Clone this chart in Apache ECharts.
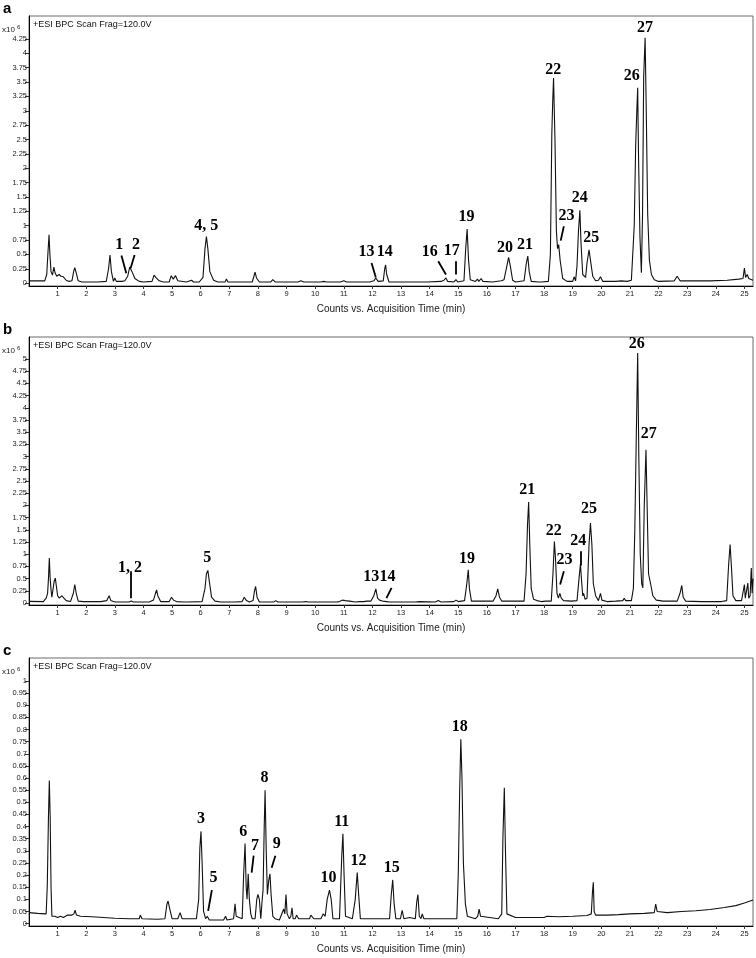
<!DOCTYPE html>
<html>
<head>
<meta charset="utf-8">
<script src="https://cdn.jsdelivr.net/npm/echarts@6.0.0/dist/echarts.min.js"></script>
<style>
    html, body { margin: 0; padding: 0; background: #fff; }
    #main { width: 756px; height: 958px; }
</style>
</head>
<body>
<div id="main"></div>
<script>
// tick labels
var xTicks = [1, 2, 3, 4, 5, 6, 7, 8, 9, 10, 11, 12, 13, 14, 15, 16, 17, 18, 19, 20, 21, 22, 23, 24, 25];
var yTicksA = [0, 0.25, 0.5, 0.75, 1, 1.25, 1.5, 1.75, 2, 2.25, 2.5, 2.75, 3, 3.25, 3.5, 3.75, 4, 4.25];
var yTicksB = [0, 0.25, 0.5, 0.75, 1, 1.25, 1.5, 1.75, 2, 2.25, 2.5, 2.75, 3, 3.25, 3.5, 3.75, 4, 4.25, 4.5, 4.75, 5];
var yTicksC = [0, 0.05, 0.1, 0.15, 0.2, 0.25, 0.3, 0.35, 0.4, 0.45, 0.5, 0.55, 0.6, 0.65, 0.7, 0.75, 0.8, 0.85, 0.9, 0.95, 1];

// BPC traces, [time (min), counts x10^6]
var traceA = [
    [0, 0.04], [0.55, 0.04], [0.62, 0.15], [0.67, 0.6], [0.70, 0.84], [0.73, 0.5], [0.77, 0.2], [0.82, 0.14], [0.87, 0.28], [0.91, 0.18],
    [0.97, 0.12], [1.05, 0.15], [1.12, 0.12], [1.2, 0.11], [1.3, 0.05], [1.4, 0.03], [1.5, 0.04], [1.56, 0.2], [1.6, 0.27], [1.65, 0.18],
    [1.72, 0.04], [1.85, 0.02], [2.4, 0.02], [2.7, 0.03], [2.78, 0.25], [2.83, 0.49], [2.88, 0.2], [2.95, 0.03], [3.0, 0.09], [3.05, 0.03],
    [3.25, 0.03], [3.3, 0.06], [3.35, 0.04], [3.45, 0.12], [3.52, 0.28], [3.55, 0.31], [3.6, 0.2], [3.7, 0.08], [3.85, 0.03], [4.0, 0.02],
    [4.3, 0.03], [4.37, 0.14], [4.43, 0.1], [4.48, 0.12], [4.55, 0.04], [4.7, 0.02], [4.9, 0.02], [4.97, 0.13], [5.04, 0.07], [5.12, 0.13],
    [5.2, 0.04], [5.5, 0.02], [5.68, 0.05], [5.75, 0.02], [5.95, 0.02], [6.08, 0.1], [6.15, 0.6], [6.2, 0.81], [6.25, 0.6], [6.32, 0.2],
    [6.45, 0.05], [6.6, 0.02], [6.85, 0.02], [6.9, 0.07], [6.95, 0.02], [7.35, 0.02], [7.4, 0.05], [7.45, 0.02], [7.8, 0.02], [7.86, 0.12],
    [7.9, 0.19], [7.95, 0.09], [8.05, 0.02], [8.35, 0.02], [8.4, 0.04], [8.45, 0.02], [8.52, 0.06], [8.6, 0.02], [9.4, 0.02], [9.5, 0.04],
    [9.6, 0.02], [10.2, 0.02], [10.3, 0.03], [10.4, 0.02], [10.75, 0.02], [10.8, 0.05], [10.88, 0.02], [11.0, 0.04], [11.1, 0.02], [11.9, 0.02],
    [12.05, 0.04], [12.12, 0.09], [12.2, 0.03], [12.38, 0.04], [12.43, 0.25], [12.46, 0.32], [12.5, 0.15], [12.58, 0.02], [13.25, 0.02], [13.31, 0.05],
    [13.38, 0.02], [13.9, 0.02], [14.4, 0.03], [14.5, 0.05], [14.57, 0.09], [14.63, 0.03], [14.85, 0.02], [14.92, 0.06], [14.98, 0.02], [15.2, 0.04],
    [15.26, 0.6], [15.31, 0.94], [15.36, 0.4], [15.42, 0.06], [15.6, 0.03], [15.67, 0.07], [15.72, 0.03], [15.8, 0.08], [15.86, 0.03], [16.2, 0.02],
    [16.5, 0.04], [16.6, 0.06], [16.7, 0.3], [16.76, 0.45], [16.82, 0.3], [16.9, 0.05], [17.0, 0.02], [17.3, 0.04], [17.38, 0.35], [17.43, 0.47],
    [17.48, 0.2], [17.55, 0.03], [17.8, 0.02], [17.85, 0.05], [17.9, 0.02], [18.15, 0.03], [18.22, 0.5], [18.27, 2.6], [18.3, 3.15], [18.33, 3.57],
    [18.38, 2.5], [18.43, 0.9], [18.47, 0.6], [18.51, 0.67], [18.56, 0.4], [18.65, 0.08], [18.8, 0.03], [19.0, 0.03], [19.05, 0.11], [19.1, 0.04],
    [19.15, 0.3], [19.2, 0.9], [19.25, 1.27], [19.29, 0.7], [19.35, 0.15], [19.45, 0.1], [19.5, 0.35], [19.57, 0.58], [19.62, 0.4], [19.7, 0.12],
    [19.8, 0.04], [19.9, 0.05], [19.97, 0.11], [20.05, 0.03], [20.5, 0.03], [20.7, 0.04], [20.9, 0.03], [21.05, 0.05], [21.15, 1.0], [21.2, 2.4],
    [21.24, 3.0], [21.27, 3.4], [21.3, 2.2], [21.35, 0.8], [21.4, 0.18], [21.44, 1.2], [21.48, 3.6], [21.53, 4.27], [21.57, 3.0], [21.62, 1.2],
    [21.68, 0.4], [21.75, 0.15], [21.85, 0.06], [22.0, 0.03], [22.55, 0.04], [22.65, 0.12], [22.75, 0.04], [23.2, 0.04], [23.8, 0.04], [24.4, 0.05],
    [24.8, 0.07], [24.95, 0.08], [25.0, 0.26], [25.04, 0.1], [25.1, 0.15], [25.15, 0.08], [25.2, 0.1], [25.3, 0.05]
];

var traceB = [
    [0, 0.035], [0.5, 0.03], [0.6, 0.1], [0.65, 0.2], [0.68, 0.5], [0.71, 0.92], [0.74, 0.5], [0.77, 0.27], [0.8, 0.12], [0.84, 0.1],
    [0.88, 0.45], [0.92, 0.51], [0.96, 0.48], [1.0, 0.15], [1.06, 0.1], [1.15, 0.15], [1.22, 0.1], [1.3, 0.05], [1.45, 0.03], [1.55, 0.2],
    [1.6, 0.38], [1.65, 0.2], [1.72, 0.04], [1.9, 0.03], [2.5, 0.03], [2.72, 0.05], [2.8, 0.15], [2.86, 0.05], [2.95, 0.03], [3.0, 0.04],
    [3.05, 0.02], [3.5, 0.02], [3.57, 0.04], [3.65, 0.02], [4.2, 0.02], [4.35, 0.06], [4.42, 0.2], [4.46, 0.27], [4.5, 0.15], [4.6, 0.03],
    [4.9, 0.03], [4.98, 0.12], [5.05, 0.06], [5.15, 0.03], [5.4, 0.02], [5.45, 0.04], [5.55, 0.02], [6.05, 0.03], [6.15, 0.3], [6.2, 0.6],
    [6.25, 0.67], [6.3, 0.45], [6.38, 0.12], [6.5, 0.04], [6.7, 0.02], [7.2, 0.02], [7.25, 0.03], [7.45, 0.03], [7.52, 0.12], [7.55, 0.15],
    [7.6, 0.05], [7.7, 0.02], [7.83, 0.05], [7.88, 0.25], [7.92, 0.34], [7.97, 0.12], [8.05, 0.02], [8.45, 0.02], [8.5, 0.04], [8.55, 0.02],
    [8.62, 0.05], [8.7, 0.02], [9.45, 0.02], [9.5, 0.03], [9.55, 0.02], [9.68, 0.03], [9.75, 0.02], [10.75, 0.02], [10.85, 0.03], [10.95, 0.06],
    [11.05, 0.05], [11.2, 0.04], [11.4, 0.02], [11.55, 0.03], [11.6, 0.06], [11.7, 0.03], [11.8, 0.04], [11.95, 0.04], [12.05, 0.15], [12.12, 0.29],
    [12.18, 0.1], [12.25, 0.06], [12.35, 0.04], [12.5, 0.03], [12.55, 0.04], [12.6, 0.02], [13.5, 0.02], [13.65, 0.03], [14.2, 0.02], [14.3, 0.05],
    [14.4, 0.02], [14.85, 0.03], [14.92, 0.06], [15.0, 0.03], [15.22, 0.05], [15.3, 0.4], [15.35, 0.68], [15.39, 0.3], [15.46, 0.04], [16.22, 0.04],
    [16.32, 0.15], [16.38, 0.29], [16.44, 0.12], [16.52, 0.04], [17.3, 0.04], [17.37, 0.6], [17.42, 1.6], [17.46, 2.07], [17.5, 1.2], [17.55, 0.3],
    [17.63, 0.08], [17.75, 0.05], [17.9, 0.03], [18.05, 0.04], [18.25, 0.04], [18.31, 0.6], [18.36, 1.26], [18.4, 0.9], [18.45, 0.2], [18.5, 0.1],
    [18.55, 0.2], [18.6, 0.1], [18.68, 0.05], [18.95, 0.04], [19.15, 0.05], [19.22, 0.5], [19.27, 0.8], [19.31, 0.45], [19.35, 0.15], [19.38, 0.2],
    [19.43, 0.08], [19.5, 0.1], [19.57, 1.2], [19.62, 1.64], [19.67, 1.2], [19.72, 0.4], [19.8, 0.15], [19.9, 0.05], [19.97, 0.2], [20.02, 0.06],
    [20.2, 0.03], [20.5, 0.04], [20.75, 0.05], [20.8, 0.1], [20.85, 0.05], [21.05, 0.05], [21.12, 0.3], [21.17, 1.5], [21.22, 3.35], [21.27, 5.12],
    [21.31, 3.0], [21.36, 1.0], [21.41, 0.4], [21.45, 0.31], [21.5, 2.0], [21.56, 3.14], [21.6, 2.0], [21.65, 0.6], [21.72, 0.4], [21.8, 0.15],
    [21.92, 0.06], [22.05, 0.05], [22.1, 0.07], [22.15, 0.04], [22.65, 0.04], [22.75, 0.2], [22.81, 0.36], [22.86, 0.12], [22.95, 0.04], [23.5, 0.03],
    [24.2, 0.03], [24.38, 0.05], [24.45, 0.8], [24.5, 1.2], [24.55, 0.7], [24.6, 0.15], [24.7, 0.05], [24.9, 0.05], [25.0, 0.38], [25.03, 0.1],
    [25.08, 0.1], [25.12, 0.41], [25.15, 0.1], [25.2, 0.15], [25.24, 0.72], [25.27, 0.2], [25.3, 0.5]
];

var traceC = [
    [0, 0.045], [0.3, 0.042], [0.6, 0.04], [0.64, 0.16], [0.68, 0.44], [0.71, 0.59], [0.74, 0.44], [0.77, 0.15], [0.8, 0.03], [0.9, 0.03],
    [1.0, 0.025], [1.1, 0.03], [1.2, 0.025], [1.35, 0.035], [1.5, 0.035], [1.57, 0.04], [1.61, 0.055], [1.66, 0.035], [1.8, 0.03], [2.2, 0.028],
    [2.6, 0.025], [3.0, 0.022], [3.5, 0.02], [3.85, 0.02], [3.89, 0.035], [3.95, 0.02], [4.5, 0.018], [4.75, 0.02], [4.82, 0.08], [4.86, 0.093],
    [4.92, 0.06], [5.0, 0.02], [5.2, 0.02], [5.28, 0.045], [5.35, 0.02], [5.85, 0.02], [5.93, 0.1], [5.97, 0.31], [6.01, 0.38], [6.05, 0.25],
    [6.1, 0.05], [6.17, 0.02], [6.23, 0.03], [6.3, 0.015], [6.8, 0.015], [6.87, 0.03], [6.92, 0.015], [7.15, 0.02], [7.2, 0.082], [7.24, 0.03],
    [7.45, 0.02], [7.5, 0.2], [7.55, 0.33], [7.59, 0.15], [7.62, 0.1], [7.66, 0.205], [7.7, 0.1], [7.75, 0.04], [7.8, 0.02], [7.9, 0.02],
    [7.96, 0.1], [8.0, 0.12], [8.05, 0.1], [8.1, 0.02], [8.15, 0.1], [8.18, 0.14], [8.22, 0.4], [8.25, 0.55], [8.29, 0.3], [8.33, 0.12],
    [8.38, 0.18], [8.42, 0.205], [8.46, 0.12], [8.52, 0.03], [8.6, 0.02], [8.75, 0.015], [8.9, 0.06], [8.94, 0.04], [8.98, 0.12], [9.02, 0.04],
    [9.1, 0.02], [9.15, 0.03], [9.19, 0.065], [9.23, 0.02], [9.3, 0.02], [9.35, 0.035], [9.42, 0.02], [9.5, 0.02], [9.8, 0.02], [9.85, 0.035],
    [9.95, 0.02], [10.2, 0.02], [10.28, 0.04], [10.35, 0.03], [10.42, 0.1], [10.5, 0.138], [10.56, 0.1], [10.62, 0.02], [10.85, 0.02], [10.93, 0.28],
    [10.97, 0.37], [11.01, 0.2], [11.06, 0.03], [11.3, 0.02], [11.4, 0.1], [11.47, 0.21], [11.52, 0.12], [11.58, 0.02], [12.0, 0.02], [12.2, 0.02],
    [12.25, 0.025], [12.3, 0.02], [12.6, 0.02], [12.66, 0.12], [12.71, 0.18], [12.76, 0.08], [12.82, 0.02], [12.98, 0.02], [13.04, 0.055], [13.1, 0.02],
    [13.3, 0.025], [13.5, 0.02], [13.55, 0.09], [13.59, 0.12], [13.64, 0.03], [13.7, 0.02], [13.74, 0.04], [13.8, 0.02], [14.5, 0.02], [14.95, 0.02],
    [15.0, 0.2], [15.05, 0.55], [15.09, 0.76], [15.13, 0.6], [15.18, 0.25], [15.25, 0.08], [15.32, 0.03], [15.6, 0.02], [15.68, 0.03], [15.73, 0.06],
    [15.78, 0.03], [16.4, 0.02], [16.52, 0.04], [16.56, 0.35], [16.61, 0.56], [16.65, 0.3], [16.7, 0.04], [17.0, 0.025], [17.5, 0.025], [18.0, 0.025],
    [18.1, 0.03], [18.5, 0.028], [19.0, 0.03], [19.5, 0.033], [19.65, 0.04], [19.69, 0.13], [19.72, 0.17], [19.75, 0.05], [19.8, 0.035], [20.2, 0.035],
    [20.6, 0.037], [21.0, 0.04], [21.5, 0.042], [21.85, 0.045], [21.9, 0.08], [21.95, 0.05], [22.3, 0.045], [22.8, 0.05], [23.3, 0.053], [23.8, 0.058],
    [24.3, 0.066], [24.7, 0.074], [25.0, 0.085], [25.3, 0.097]
];

// peak numbers: [text, time, height]
var peaksA = [
    ['1', 3.15, 0.66], ['2', 3.74, 0.67], ['4, 5', 6.19, 0.99], ['13', 11.79, 0.54], ['14', 12.43, 0.54],
    ['16', 14.0, 0.55], ['17', 14.77, 0.57], ['19', 15.29, 1.16], ['20', 16.63, 0.61], ['21', 17.33, 0.67],
    ['22', 18.32, 3.72], ['23', 18.78, 1.17], ['24', 19.25, 1.48], ['25', 19.65, 0.78], ['26', 21.06, 3.6], ['27', 21.53, 4.45]
];
var peaksB = [
    ['1, 2', 3.53, 0.72], ['5', 6.23, 0.92], ['13', 11.96, 0.53], ['14', 12.53, 0.53], ['19', 15.31, 0.91],
    ['21', 17.41, 2.32], ['22', 18.34, 1.47], ['23', 18.71, 0.89], ['24', 19.19, 1.28], ['25', 19.57, 1.93],
    ['26', 21.24, 5.31], ['27', 21.66, 3.46]
];
var peaksC = [
    ['3', 6.01, 0.43], ['5', 6.45, 0.19], ['6', 7.49, 0.38], ['7', 7.9, 0.32], ['8', 8.23, 0.6], ['9', 8.66, 0.33],
    ['10', 10.47, 0.19], ['11', 10.93, 0.42], ['12', 11.51, 0.26], ['15', 12.68, 0.23], ['18', 15.05, 0.81]
];

// leader lines: [t1, y1, t2, y2]
var leadersA = [
    [3.23, 0.48, 3.40, 0.17], [3.69, 0.49, 3.55, 0.26], [11.97, 0.35, 12.12, 0.1], [14.3, 0.38, 14.57, 0.15],
    [14.92, 0.38, 14.92, 0.15], [18.69, 0.99, 18.58, 0.74]
];
var leadersB = [
    [3.57, 0.65, 3.57, 0.10], [12.67, 0.31, 12.49, 0.1], [18.69, 0.65, 18.56, 0.38], [19.27, 1.06, 19.27, 0.77]
];
var leadersC = [
    [6.39, 0.138, 6.26, 0.052], [7.85, 0.28, 7.78, 0.21], [8.61, 0.28, 8.48, 0.23]
];

var myChart = echarts.init(document.getElementById('main'));

var panels = [
    {letter: 'a', top: 16, height: 270, ymin: -0.05, ymax: 4.65, ticks: yTicksA, trace: traceA, peaks: peaksA, leaders: leadersA},
    {letter: 'b', top: 337, height: 268, ymin: -0.04, ymax: 5.45, ticks: yTicksB, trace: traceB, peaks: peaksB, leaders: leadersB},
    {letter: 'c', top: 658, height: 268, ymin: -0.01, ymax: 1.095, ticks: yTicksC, trace: traceC, peaks: peaksC, leaders: leadersC}
];

var tickFont = {fontFamily: 'Liberation Sans', fontSize: 7.5, color: '#222'};
var grids = [], xAxes = [], yAxes = [], series = [], graphics = [];

panels.forEach(function (p, i) {
    grids.push({
        left: 29, width: 724, top: p.top, height: p.height,
        show: true, borderColor: '#6a6a6a', borderWidth: 1
    });
    xAxes.push({
        type: 'value', gridIndex: i, min: 0, max: 25.3,
        axisLine: {onZero: false, lineStyle: {color: '#000', width: 1}},
        axisTick: {customValues: xTicks, length: 3, lineStyle: {color: '#333'}},
        axisLabel: {customValues: xTicks, margin: 4, fontFamily: tickFont.fontFamily, fontSize: tickFont.fontSize, color: tickFont.color},
        splitLine: {show: false},
        name: 'Counts vs. Acquisition Time (min)',
        nameLocation: 'middle', nameGap: 18,
        nameTextStyle: {fontFamily: 'Liberation Sans', fontSize: 10, color: '#222'}
    });
    yAxes.push({
        type: 'value', gridIndex: i, min: p.ymin, max: p.ymax,
        axisLine: {onZero: false, lineStyle: {color: '#000', width: 1}},
        axisTick: {customValues: p.ticks, length: 4, lineStyle: {color: '#333'}},
        axisLabel: {customValues: p.ticks, margin: 2, fontFamily: tickFont.fontFamily, fontSize: tickFont.fontSize, color: tickFont.color},
        splitLine: {show: false}
    });
    series.push({
        type: 'line', xAxisIndex: i, yAxisIndex: i,
        data: p.trace, showSymbol: false, symbol: 'none',
        lineStyle: {color: '#111', width: 1.1},
        markLine: {
            silent: true, symbol: ['none', 'none'],
            label: {show: false},
            lineStyle: {color: '#000', width: 1.8, type: 'solid'},
            data: p.leaders.map(function (l) {
                return [{coord: [l[0], l[1]]}, {coord: [l[2], l[3]]}];
            })
        }
    });
    series.push({
        type: 'scatter', xAxisIndex: i, yAxisIndex: i,
        symbolSize: 0, silent: true,
        itemStyle: {opacity: 1},
        data: p.peaks.map(function (k) {
            return {name: k[0], value: [k[1], k[2]]};
        }),
        label: {
            show: true, position: 'inside', formatter: '{b}', opacity: 1,
            fontFamily: 'Liberation Serif', fontWeight: 'bold', fontSize: 16, color: '#000',
            textBorderWidth: 0, textShadowBlur: 0
        }
    });

    // panel letter, scale factor, scan header
    graphics.push({
        type: 'text', left: 3, top: p.top - 15,
        style: {text: p.letter, font: 'bold 15px "Liberation Sans"', fill: '#000'}
    });
    graphics.push({
        type: 'text', left: 2, top: p.top + 10,
        style: {text: 'x10', font: '8px "Liberation Sans"', fill: '#222'}
    });
    graphics.push({
        type: 'text', left: 17, top: p.top + 8,
        style: {text: '6', font: '6px "Liberation Sans"', fill: '#222'}
    });
    graphics.push({
        type: 'text', left: 33, top: p.top + 4,
        style: {text: '+ESI BPC Scan Frag=120.0V', font: '9px "Liberation Sans"', fill: '#111'}
    });
});

var option = {
    animation: false,
    backgroundColor: '#fff',
    grid: grids,
    xAxis: xAxes,
    yAxis: yAxes,
    series: series,
    graphic: graphics
};
myChart.setOption(option);
</script>
</body>
</html>
